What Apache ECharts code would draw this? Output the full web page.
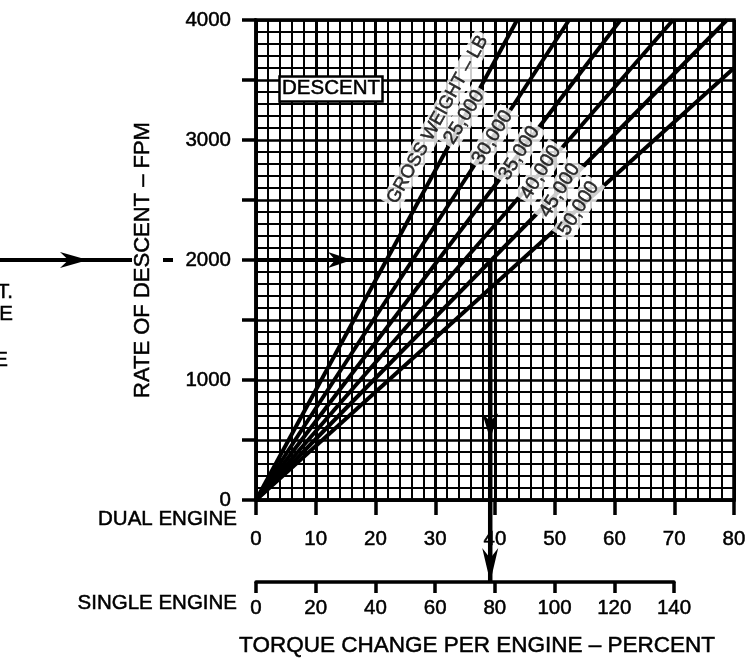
<!DOCTYPE html>
<html><head><meta charset="utf-8">
<script src="https://cdn.jsdelivr.net/npm/echarts@6/dist/echarts.min.js"></script>
<style>html,body{margin:0;padding:0;background:#fff;}#c{width:754px;height:661px;}</style>
</head><body><div id="c"></div>
<script>
// ---------------- data ----------------
const grossWeights   = [25000, 30000, 35000, 40000, 45000, 50000];
const weightLabels   = ['25,000', '30,000', '35,000', '40,000', '45,000', '50,000'];
// end point of each gross-weight line where it leaves the chart
const lineEndTorque  = [43.7, 52.4, 61.0, 69.8, 78.8, 80];
const lineEndRate    = [4000, 4000, 4000, 4000, 4000, 3600];
// rate of descent at which each weight label sits on its line
const labelRates     = [3190, 3020, 2890, 2730, 2580, 2430];
const dualTicks      = [0, 10, 20, 30, 40, 50, 60, 70, 80];
const singleTicks    = [0, 20, 40, 60, 80, 100, 120, 140];
const rateTicks      = [0, 1000, 2000, 3000, 4000];
// worked example
const exampleRate          = 2000;
const exampleDualTorque    = 39.2;
const exampleSingleTorque  = 78.4;

// ---------------- chart ----------------
const ink = '#000';
const FF = '"Liberation Sans", Arial, Helvetica, sans-serif';
const heavy = {textBorderColor: '#000', textBorderWidth: 0.5};
const chart = echarts.init(document.getElementById('c'), null, {renderer: 'canvas'});

const lineSeries = grossWeights.map((w, i) => ({
  type: 'line', name: weightLabels[i], xAxisIndex: 0, yAxisIndex: 0,
  data: [[0, 0], [lineEndTorque[i], lineEndRate[i]]],
  symbol: 'none', silent: true, z: 3,
  lineStyle: {color: ink, width: 4}
}));

const labelSeries = {
  type: 'scatter', xAxisIndex: 0, yAxisIndex: 0, symbolSize: 0, silent: true, z: 6,
  data: labelRates.map((r, i) => [r * lineEndTorque[i] / lineEndRate[i], r]),
  label: Object.assign({
    show: true, position: 'inside', rotate: 58,
    formatter: p => weightLabels[p.dataIndex],
    color: ink, fontSize: 19.5, fontFamily: FF,
    backgroundColor: '#fff', padding: [1, 3]
  }, heavy)
};
const grossLabel = {
  type: 'scatter', xAxisIndex: 0, yAxisIndex: 0, symbolSize: 0, silent: true, z: 6,
  data: [[30.4, 3170]],
  label: Object.assign({
    show: true, position: 'inside', rotate: 61,
    formatter: 'GROSS WEIGHT – LB',
    color: ink, fontSize: 18.5, fontFamily: FF,
    backgroundColor: '#fff', padding: [1, 3]
  }, heavy)
};

chart.setOption({
  animation: false,
  backgroundColor: '#fff',
  textStyle: {fontFamily: FF, color: ink},
  title: {
    text: 'DESCENT', left: 279, top: 76,
    textStyle: Object.assign({fontSize: 20.5, fontWeight: 'normal', color: ink, fontFamily: FF}, heavy),
    backgroundColor: '#fff', borderColor: ink, borderWidth: 2.5, padding: [2, 3]
  },
  grid: [
    {left: 256, top: 20, width: 478, height: 480, show: true, borderColor: ink, borderWidth: 3.5, backgroundColor: 'transparent', containLabel: false},
    {left: 256, top: 581, width: 418, height: 1, show: false, containLabel: false}
  ],
  xAxis: [
    {
      type: 'value', gridIndex: 0, min: dualTicks[0], max: dualTicks[dualTicks.length - 1], interval: 10,
      axisLine: {show: true, onZero: false, lineStyle: {color: ink, width: 3.5}},
      axisTick: {show: true, length: 15, lineStyle: {color: ink, width: 3.5}},
      axisLabel: Object.assign({color: ink, fontSize: 20.5, margin: 29, fontFamily: FF,
                  formatter: v => dualTicks.includes(v) ? String(v) : ''}, heavy),
      splitLine: {show: true, lineStyle: {color: ink, width: 3}},
      minorTick: {show: false, splitNumber: 5},
      minorSplitLine: {show: true, lineStyle: {color: ink, width: 2}}
    },
    {
      type: 'value', gridIndex: 1, min: singleTicks[0], max: singleTicks[singleTicks.length - 1], interval: 20,
      position: 'bottom',
      axisLine: {show: true, onZero: false, lineStyle: {color: ink, width: 3.5}},
      axisTick: {show: true, length: 11, lineStyle: {color: ink, width: 3.5}},
      axisLabel: Object.assign({color: ink, fontSize: 20.5, margin: 16, fontFamily: FF,
                  formatter: v => singleTicks.includes(v) ? String(v) : ''}, heavy),
      splitLine: {show: false},
      name: 'TORQUE CHANGE PER ENGINE – PERCENT', nameLocation: 'middle', nameGap: 52,
      nameTextStyle: Object.assign({color: ink, fontSize: 22.5, fontFamily: FF, padding: [0, 0, 0, 24]}, heavy)
    }
  ],
  yAxis: [
    {
      type: 'value', gridIndex: 0, min: 0, max: 4000, interval: 500,
      axisLine: {show: true, onZero: false, lineStyle: {color: ink, width: 3.5}},
      axisTick: {show: true, length: 14, lineStyle: {color: ink, width: 3.5}},
      axisLabel: Object.assign({color: ink, fontSize: 20.5, margin: 25, fontFamily: FF,
                  formatter: v => rateTicks.includes(v) ? String(v) : ''}, heavy),
      splitLine: {show: true, lineStyle: {color: ink, width: 2.6}},
      minorTick: {show: false, splitNumber: 5},
      minorSplitLine: {show: true, lineStyle: {color: ink, width: 2}},
      name: 'RATE OF DESCENT – FPM', nameLocation: 'middle', nameGap: 102,
      nameTextStyle: Object.assign({color: ink, fontSize: 22, fontFamily: FF}, heavy)
    },
    {type: 'value', gridIndex: 1, min: 0, max: 1, show: false}
  ],
  series: [...lineSeries, labelSeries, grossLabel]
});

// ---------------- worked-example arrows & side texts ----------------
const p0 = chart.convertToPixel({gridIndex: 0}, [0, exampleRate]);
const p1 = chart.convertToPixel({gridIndex: 0}, [exampleDualTorque, exampleRate]);
const p2 = chart.convertToPixel({gridIndex: 1}, [exampleSingleTorque, 0]);
const y0 = p0[1];
const xv = p1[0];

function headRight(tipX, y, len, half) {
  return {type: 'polygon', z: 20, silent: true, shape: {points: [[tipX, y], [tipX - len, y - half], [tipX - len * 0.7, y], [tipX - len, y + half]]}, style: {fill: ink}};
}
function headDown(x, tipY, len, half) {
  return {type: 'polygon', z: 20, silent: true, shape: {points: [[x, tipY], [x - half, tipY - len], [x, tipY - len * 0.7], [x + half, tipY - len]]}, style: {fill: ink}};
}
const lineStyle = {stroke: ink, lineWidth: 4};
const hTip = p0[0] + 0.41 * (xv - p0[0]);
const vTip = y0 + 0.557 * (p2[1] - y0);
const sideFont = '20.5px ' + FF;
function sideText(x, y, t) {
  return {type: 'text', z: 20, silent: true, x: x, y: y,
          style: {text: t, fill: ink, font: sideFont, align: 'right', verticalAlign: 'middle', stroke: ink, lineWidth: 0.5}};
}

chart.setOption({
  graphic: [
    // left incoming arrow
    {type: 'line', z: 20, silent: true, shape: {x1: 0, y1: y0, x2: 132, y2: y0}, style: lineStyle},
    headRight(88, y0, 28, 8),
    {type: 'line', z: 20, silent: true, shape: {x1: 163, y1: y0, x2: 173, y2: y0}, style: lineStyle},
    // inside chart: across to the line, then down
    {type: 'line', z: 20, silent: true, shape: {x1: p0[0], y1: y0, x2: xv, y2: y0}, style: lineStyle},
    headRight(hTip, y0, 24, 8),
    {type: 'line', z: 20, silent: true, shape: {x1: xv, y1: y0, x2: xv, y2: p2[1]}, style: {stroke: ink, lineWidth: 4.5}},
    headDown(xv, vTip, 26, 8),
    headDown(xv, p2[1], 34, 8),
    // side texts
    sideText(237, 519, 'DUAL ENGINE'),
    sideText(237, 603, 'SINGLE ENGINE'),
    // clipped text from neighbouring panel
    sideText(13, 292, 'T.'),
    sideText(13, 314, 'E'),
    sideText(8, 360, 'E')
  ]
});
</script>
</body></html>
